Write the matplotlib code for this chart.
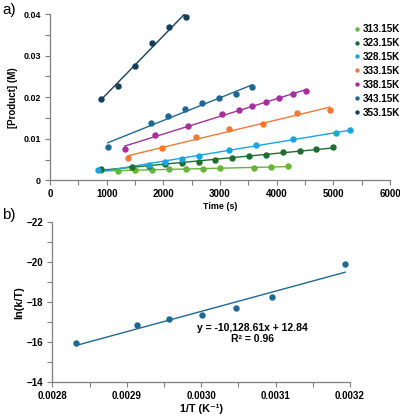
import numpy as np
import matplotlib
matplotlib.use("Agg")
import matplotlib.pyplot as plt
from matplotlib.ticker import MultipleLocator

plt.rcParams['font.family'] = ['Liberation Sans', 'DejaVu Sans']

labels = ["313.15K", "323.15K", "328.15K", "333.15K", "338.15K", "343.15K", "353.15K"]
colors = ["#66b43a", "#1d6e30", "#1ca3de", "#f27a36", "#a62f9e", "#1f6893", "#163f5c"]

t_313 = [900, 1200, 1500, 1800, 2100, 2400, 2700, 3000, 3600, 3900, 4200]
c_313 = [0.0025, 0.0023, 0.0024, 0.0024, 0.0026, 0.0026, 0.0028, 0.0029, 0.0030, 0.0033, 0.0034]
t_323 = [900, 1450, 1750, 2030, 2330, 2630, 2920, 3220, 3510, 3820, 4110, 4410, 4700, 5000]
c_323 = [0.0026, 0.0033, 0.0035, 0.0039, 0.0041, 0.0045, 0.0050, 0.0054, 0.0058, 0.0062, 0.0067, 0.0070, 0.0075, 0.0079]
t_328 = [850, 1740, 2030, 2330, 2630, 3160, 3630, 4290, 5050, 5290]
c_328 = [0.0024, 0.0038, 0.0045, 0.0051, 0.0059, 0.0072, 0.0085, 0.0099, 0.0114, 0.0121]
t_333 = [1380, 1980, 2570, 3160, 3750, 4350, 4940]
c_333 = [0.0053, 0.0078, 0.0104, 0.0123, 0.0136, 0.0162, 0.0168]
t_338 = [1320, 1850, 2440, 3040, 3335, 3570, 3820, 4040, 4290, 4510]
c_338 = [0.0075, 0.0110, 0.0131, 0.0160, 0.0170, 0.0178, 0.0188, 0.0198, 0.0207, 0.0215]
t_343 = [1020, 1790, 2090, 2380, 2690, 2980, 3280, 3570]
c_343 = [0.0080, 0.0137, 0.0154, 0.0171, 0.0186, 0.0199, 0.0208, 0.0224]
t_353 = [900, 1200, 1500, 1800, 2100, 2400]
c_353 = [0.0196, 0.0227, 0.0275, 0.0331, 0.0368, 0.0394]

times = [t_313, t_323, t_328, t_333, t_338, t_343, t_353]
concs = [c_313, c_323, c_328, c_333, c_338, c_343, c_353]

invT = [0.0028317, 0.0029142, 0.0029573, 0.0030017, 0.0030474, 0.0030945, 0.0031934]
lnkT = [-15.97, -16.88, -17.15, -17.37, -17.73, -18.27, -19.90]
slope, intercept = -10128.61, 12.84
fit_text = "y = -10,128.61x + 12.84\nR² = 0.96"

fig = plt.figure(figsize=(4.0, 4.16), dpi=100)

# ---- panel a ----
ax1 = fig.add_axes([0.125, 0.5666, 0.85, 0.3996])
for t, c, col, lab in zip(times, concs, colors, labels):
    t = np.array(t, float); c = np.array(c, float)
    m, b = np.polyfit(t, c, 1)
    xx = np.array([t.min(), t.max()])
    ax1.plot(xx, m * xx + b, color=col, lw=1.0, zorder=2)
    ax1.plot(t, c, 'o', color=col, ms=3.6, zorder=3, label=lab)
ax1.set_xlim(0, 6000)
ax1.set_ylim(0, 0.04)
ax1.xaxis.set_major_locator(MultipleLocator(1000))
ax1.xaxis.set_minor_locator(MultipleLocator(500))
ax1.set_yticks([0, 0.01, 0.02, 0.03, 0.04])
ax1.set_yticklabels(["0", "0.01", "0.02", "0.03", "0.04"])
ax1.yaxis.set_minor_locator(MultipleLocator(0.005))
ax1.set_xlabel("Time (s)", fontsize=6.4, fontweight='bold', labelpad=2)
ax1.set_ylabel("[Product] (M)", fontsize=7, fontweight='bold', labelpad=4)
leg = ax1.legend(loc='upper left', bbox_to_anchor=(0.893, 0.94), frameon=False,
                 prop={'size': 7.1, 'weight': 'bold'}, handlelength=0.6,
                 handletextpad=0.3, labelspacing=0.4, markerscale=0.6,
                 borderpad=0, borderaxespad=0)

# ---- panel b ----
ax2 = fig.add_axes([0.131, 0.081, 0.744, 0.3846])
xx = np.array([min(invT), max(invT)])
ax2.plot(xx, slope * xx + intercept, color="#1f6893", lw=1.0, zorder=2)
ax2.plot(invT, lnkT, 'o', color="#1f6893", ms=3.6, zorder=3)
ax2.set_xlim(0.0028, 0.0032)
ax2.set_ylim(-14, -22)
ax2.set_xticks([0.0028, 0.0029, 0.0030, 0.0031, 0.0032])
ax2.set_xticklabels(["0.0028", "0.0029", "0.0030", "0.0031", "0.0032"])
ax2.xaxis.set_minor_locator(MultipleLocator(0.00005))
ax2.set_yticks([-22, -20, -18, -16, -14])
ax2.set_yticklabels(["\u221222", "\u221220", "\u221218", "\u221216", "\u221214"])
ax2.yaxis.set_minor_locator(MultipleLocator(1))
ax2.set_xlabel("1/T (K\u207b\u00b9)", fontsize=7.8, fontweight='bold', labelpad=1.5)
ax2.set_ylabel("ln(k/T)", fontsize=7.8, fontweight='bold', labelpad=2)
ax2.text(0.0030684, -16.44, fit_text, ha='center', va='center',
         fontsize=7.5, fontweight='bold', linespacing=1.1)

for ax in (ax1, ax2):
    for s in ('top', 'right'):
        ax.spines[s].set_visible(False)
    for s in ('left', 'bottom'):
        ax.spines[s].set_color('#7f7f7f')
        ax.spines[s].set_linewidth(0.9)
    ax.tick_params(which='both', direction='out', color='#7f7f7f', width=0.8)
    ax.tick_params(which='major', length=3.5, labelsize=7, pad=3)
    ax.tick_params(which='minor', length=3.5)
    for lbl in ax.get_xticklabels() + ax.get_yticklabels():
        lbl.set_fontweight('bold')
ax1.tick_params(axis='y', labelsize=6.4)
ax1.tick_params(axis='x', labelsize=7)

fig.text(0.005, 0.975, "a)", fontsize=11, va='center', ha='left')
fig.text(0.005, 0.483, "b)", fontsize=11, va='center', ha='left')

fig.savefig("out.png", dpi=100)
